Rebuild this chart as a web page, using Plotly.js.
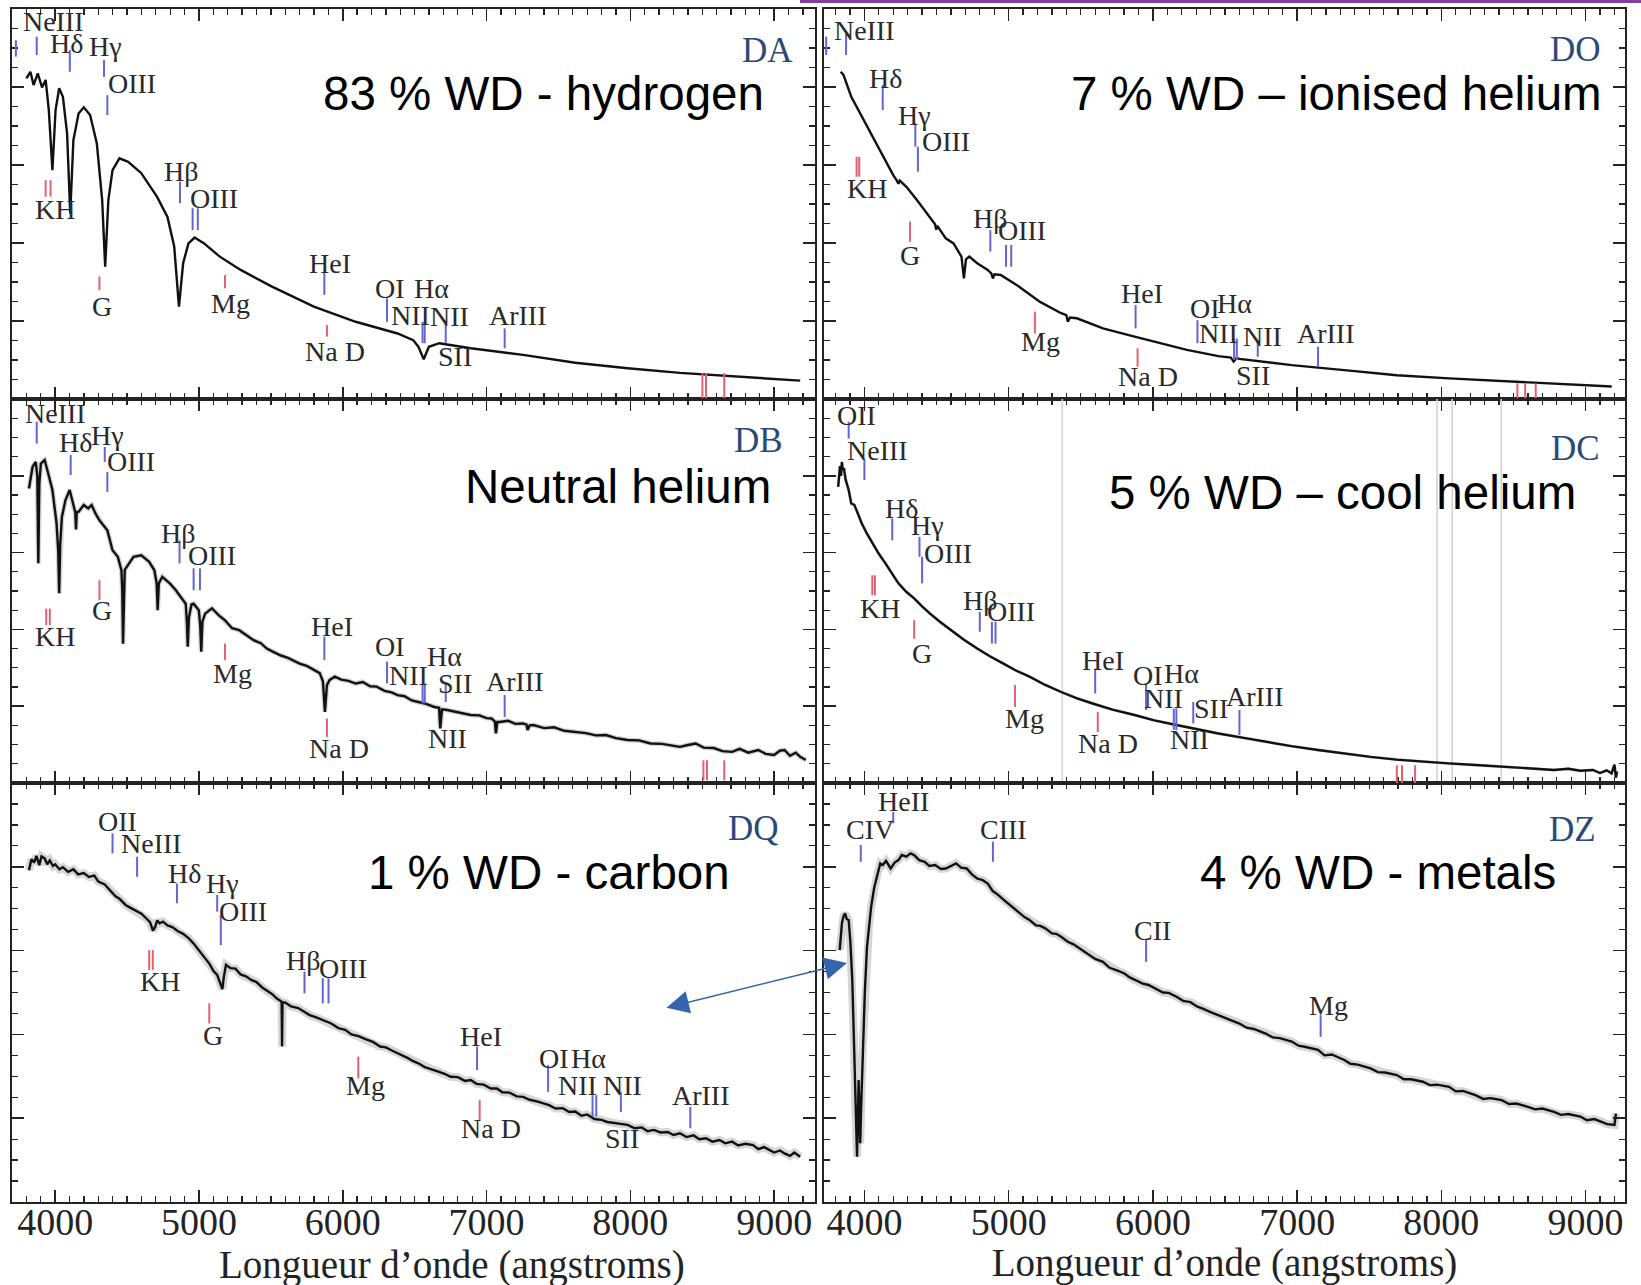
<!DOCTYPE html>
<html>
<head>
<meta charset="utf-8">
<script src="https://cdn.plot.ly/plotly-3.0.1.min.js"></script>
<style>html,body{margin:0;padding:0;background:#fff;}#chart{width:1641px;height:1285px;}</style>
</head>
<body>
<div id="chart"></div>
<script>
// ---------------- spectra (wavelength in Å, flux in % of panel height) ----------------
const DA_WL = [3800,3828,3850,3879,3909,3934,3956,3981,4003,4028,4054,4083,4105,4127,4163,4199,4243,4290,4327,4348,4370,4399,4447,4508,4599,4708,4781,4828,4861,4890,4927,4970,5036,5145,5290,5508,5799,6090,6381,6490,6526,6563,6599,6672,6890,7254,7617,7981,8345,8708,9181];
const DA_FLUX = [82.2,83.9,80.5,83.5,79.9,81.8,74.1,58.7,74.1,79.7,77.5,68.1,47.6,66.4,73.2,74.8,72.8,65.5,51.0,33.9,51.0,58.7,61.7,60.8,57.9,51.9,46.7,39.1,23.7,34.8,39.9,41.4,39.9,36.5,33.1,28.8,23.7,19.8,16.8,15.1,13.4,10.2,13.4,14.3,13.0,11.3,9.3,7.9,6.7,5.9,4.7];

const DO_WL = [3836,3855,3909,3982,4055,4127,4200,4225,4236,4245,4291,4364,4455,4490,4498,4506,4564,4618,4673,4690,4704,4727,4782,4855,4880,4891,4902,4945,5073,5218,5364,5400,5411,5425,5473,5654,5873,6054,6236,6454,6540,6560,6580,6600,6963,7327,7691,8054,8600,9181];
const DO_FLUX = [83.9,83.1,77.5,72.4,67.3,62.6,57.4,56.0,55.2,56.0,54.4,51.0,46.7,44.8,43.4,44.4,41.2,39.9,36.5,30.9,35.8,36.5,34.8,33.1,32.2,30.9,32.0,31.8,28.8,24.9,22.0,21.5,19.8,20.9,20.7,18.1,16.0,14.3,12.6,11.0,10.6,9.6,10.5,10.3,8.7,7.4,6.1,5.3,4.2,3.2];

const DB_WL = [3818,3843,3865,3876,3883,3890,3901,3927,3952,3981,4010,4022,4028,4035,4047,4072,4101,4127,4140,4145,4150,4163,4199,4230,4254,4280,4308,4335,4363,4399,4436,4461,4467,4472,4478,4484,4545,4599,4654,4690,4706,4713,4721,4745,4799,4840,4872,4908,4916,4922,4930,4948,4963,4999,5009,5016,5024,5043,5090,5140,5181,5230,5280,5327,5380,5430,5472,5520,5570,5620,5654,5700,5750,5799,5840,5862,5876,5890,5908,5945,5990,6040,6090,6140,6190,6236,6290,6340,6381,6430,6480,6526,6580,6636,6670,6678,6690,6726,6780,6830,6890,6950,7000,7035,7058,7065,7075,7090,7150,7200,7254,7278,7285,7300,7326,7400,7470,7540,7617,7690,7760,7830,7900,7981,8060,8140,8220,8300,8345,8400,8454,8510,8580,8640,8708,8760,8820,8890,8940,8999,9040,9072,9110,9150,9181,9220];
const DB_FLUX = [76.7,82.3,83.6,80.0,57.2,78.0,83.2,84.1,80.6,76.3,67.6,60.0,49.4,62.0,69.3,73.7,76.3,71.9,70.5,66.0,70.6,70.6,72.4,71.5,72.4,70.2,68.4,67.1,65.8,60.6,58.9,55.4,50.0,36.3,50.0,55.5,58.9,59.3,57.6,55.4,52.0,45.0,52.0,53.7,51.9,50.2,48.5,46.7,42.0,35.5,43.0,46.5,46.7,45.0,41.0,34.2,42.0,44.1,45.5,43.6,42.4,40.3,39.8,38.5,37.2,36.4,35.0,34.1,33.2,32.6,32.0,31.1,30.5,29.4,28.6,26.5,18.5,25.5,26.8,27.7,26.9,26.6,25.9,26.3,25.2,25.1,24.0,23.6,22.9,22.6,21.5,21.1,20.6,19.8,19.6,14.2,19.2,19.0,18.6,18.3,17.7,17.6,16.9,16.8,16.0,12.9,15.9,15.9,16.2,15.4,15.5,15.2,13.8,15.0,15.1,14.3,14.5,13.6,13.3,13.0,12.4,12.5,11.7,11.2,11.1,10.3,10.2,9.6,9.4,9.9,10.3,9.2,9.1,8.3,8.1,8.9,7.9,8.6,7.6,7.3,8.4,8.6,7.1,7.9,6.8,6.0];

const DC_WL = [3818,3825,3831,3838,3844,3850,3858,3870,3891,3909,3930,3946,3960,3982,4020,4055,4100,4146,4190,4236,4290,4345,4400,4455,4530,4600,4690,4782,4870,4964,5050,5145,5250,5364,5470,5582,5720,5873,6010,6163,6300,6454,6620,6782,6960,7145,7330,7509,7690,7873,8050,8236,8420,8600,8780,8880,8963,9050,9100,9145,9180,9200,9210,9218];
const DC_FLUX = [77.1,80.5,82.5,80.0,83.6,81.5,82.0,79.0,76.3,72.8,72.4,71.0,69.5,67.6,64.8,62.4,59.7,57.2,54.5,52.0,49.8,48.1,46.0,44.1,41.8,39.8,37.3,35.0,33.0,31.1,29.3,27.7,25.6,23.7,22.1,20.7,19.1,17.7,16.3,15.1,14.0,12.9,11.8,10.7,9.6,8.6,7.6,6.8,6.1,5.5,5.1,4.7,4.2,3.8,3.4,3.7,3.2,3.4,2.6,3.3,2.5,4.8,1.4,3.0];

const DQ_WL = [3818,3835,3854,3870,3890,3905,3927,3945,3963,3985,4000,4030,4054,4090,4127,4160,4199,4235,4272,4300,4345,4380,4418,4450,4490,4525,4563,4600,4636,4660,4680,4695,4710,4727,4750,4781,4815,4854,4890,4927,4960,5000,5035,5072,5100,5127,5150,5163,5172,5188,5220,5254,5290,5330,5363,5400,5440,5472,5510,5540,5563,5575,5578,5581,5599,5640,5690,5726,5770,5820,5872,5920,5970,6017,6060,6110,6163,6210,6260,6300,6345,6400,6450,6490,6526,6570,6620,6660,6708,6750,6800,6850,6890,6930,6980,7030,7072,7110,7160,7210,7254,7300,7350,7400,7435,7480,7530,7575,7617,7660,7700,7750,7799,7840,7880,7930,7981,8030,8080,8120,8163,8210,8260,8300,8345,8390,8440,8480,8526,8570,8620,8660,8708,8750,8800,8853,8890,8930,8963,9000,9040,9072,9110,9140,9181];
const DQ_FLUX = [79.2,81.8,81.0,82.6,80.4,82.5,82.0,80.6,81.5,80.2,80.6,79.4,79.9,78.8,79.4,78.2,78.5,77.6,77.9,76.5,75.8,74.4,73.0,72.3,70.9,70.2,69.5,68.8,67.6,66.8,64.8,65.6,67.2,66.5,66.9,66.0,65.6,64.6,64.0,63.0,61.8,60.0,58.3,56.9,55.2,54.2,52.0,50.8,53.5,56.6,55.8,55.7,54.3,53.8,53.0,52.5,51.2,50.5,49.6,48.6,48.2,47.8,37.1,47.6,47.6,46.7,46.3,45.5,44.6,44.0,43.2,42.6,41.5,41.1,40.0,39.6,38.8,38.2,37.1,36.9,36.1,35.3,34.4,33.6,33.1,32.2,31.7,31.2,30.6,29.9,29.8,28.9,29.1,28.2,28.0,27.1,27.1,26.2,26.1,25.2,25.1,24.4,24.0,23.4,23.1,22.3,22.4,21.5,21.6,20.6,20.9,19.8,19.6,19.1,18.9,18.6,18.4,17.6,17.8,16.9,17.2,16.6,16.7,16.0,16.4,15.5,15.9,15.0,15.2,14.4,14.8,14.0,14.4,13.5,13.9,13.6,12.6,13.1,12.4,11.8,12.3,11.6,11.0,11.8,10.8];

const DZ_WL = [3829,3836,3844,3855,3866,3878,3891,3903,3916,3928,3938,3944,3949,3954,3960,3965,3971,3977,3989,4003,4018,4032,4047,4068,4091,4110,4127,4150,4182,4210,4236,4260,4291,4320,4345,4380,4418,4450,4491,4530,4564,4600,4636,4670,4709,4745,4782,4820,4855,4890,4927,4970,5036,5070,5110,5145,5190,5220,5254,5300,5330,5364,5410,5450,5509,5550,5600,5654,5700,5750,5800,5840,5873,5930,5970,6018,6070,6110,6164,6210,6260,6309,6350,6400,6454,6500,6550,6600,6650,6700,6782,6830,6880,6963,7010,7060,7145,7190,7240,7327,7370,7420,7509,7560,7610,7691,7740,7790,7872,7920,7970,8054,8100,8150,8236,8290,8340,8418,8470,8520,8600,8650,8700,8781,8830,8880,8963,9010,9060,9109,9150,9200,9210];
const DZ_FLUX = [60.1,64.0,66.5,68.2,68.9,67.5,67.3,62.0,53.0,38.0,21.1,13.0,10.8,18.0,29.1,22.0,14.0,22.0,37.1,50.0,60.9,66.0,70.5,75.0,78.4,80.8,80.4,81.4,79.6,81.0,81.6,82.8,82.4,83.2,82.8,81.6,81.2,80.2,80.4,79.5,79.6,80.2,80.8,79.8,79.6,78.2,77.2,76.8,76.0,74.2,73.3,72.0,70.1,69.3,68.0,67.3,66.0,65.9,65.3,64.1,64.0,63.3,62.1,61.5,60.1,59.2,58.0,57.3,55.9,55.3,54.6,53.6,53.0,52.1,51.8,51.0,50.0,49.9,49.0,48.0,47.7,46.6,46.1,45.3,44.6,43.9,43.3,42.6,41.6,41.3,40.2,39.3,39.1,38.3,37.3,37.0,36.3,35.0,35.2,33.9,33.0,32.8,31.9,31.0,30.9,30.3,29.3,29.3,28.7,27.9,28.0,27.5,26.4,26.5,25.5,24.6,24.8,24.3,23.4,23.5,22.7,22.1,22.3,21.5,20.8,21.0,20.4,19.5,19.8,19.2,18.6,18.4,21.1];

// ---------------- line identification marks: [wavelength, low, high, colour key] ----------------
const DA_MARKS = [[3727,87.8,92.0,'b'],[3872,88.2,92.9,'b'],[4102,83.9,89.5,'b'],[4340,82.6,86.9,'b'],[4363,72.8,77.9,'b'],[3934,51.9,56.1,'r'],[3968,51.9,56.1,'r'],[4308,27.9,31.4,'r'],[4868,50.2,55.7,'b'],[4956,43.3,48.9,'b'],[4992,43.3,48.9,'b'],[5181,28.4,31.8,'r'],[5872,26.7,32.6,'b'],[5890,16.0,19.0,'r'],[6308,19.8,25.8,'b'],[6555,14.3,19.8,'b'],[6570,14.3,19.8,'b'],[6716,14.3,19.4,'b'],[7126,13.0,18.1,'b'],[8501,0.2,6.6,'r'],[8526,0.2,6.6,'r'],[8653,0.2,6.6,'r']];
const DO_MARKS = [[3735,88.2,92.9,'b'],[3873,88.2,93.8,'b'],[4127,74.1,80.5,'b'],[4353,64.7,70.7,'b'],[4371,58.3,64.7,'b'],[3946,57.0,62.1,'r'],[3964,57.0,62.1,'r'],[4316,40.3,45.5,'r'],[4873,37.8,43.3,'b'],[4982,33.9,39.5,'b'],[5018,33.9,39.5,'b'],[5182,16.8,22.4,'r'],[5880,18.1,24.1,'b'],[5894,8.3,13.0,'r'],[6309,14.3,20.2,'b'],[6563,10.0,15.5,'b'],[6582,10.0,15.5,'b'],[6727,10.8,15.1,'b'],[7145,8.3,13.4,'b'],[8527,0.2,4.0,'r'],[8581,0.2,4.0,'r'],[8654,0.2,4.0,'r']];
const DB_MARKS = [[3872,88.4,94.1,'b'],[4108,80.2,85.4,'b'],[4345,83.6,87.5,'b'],[4363,75.8,81.0,'b'],[3938,41.1,45.4,'r'],[3963,41.1,45.4,'r'],[4308,47.6,52.8,'r'],[4865,57.2,63.2,'b'],[4963,50.2,55.9,'b'],[5007,50.2,55.9,'b'],[5181,32.0,36.3,'r'],[5872,32.0,38.1,'b'],[5890,12.0,16.8,'r'],[6308,25.9,31.6,'b'],[6555,20.7,25.9,'b'],[6570,20.7,25.9,'b'],[6716,21.1,25.9,'b'],[7126,17.2,22.9,'b'],[8508,0.7,5.9,'r'],[8533,0.7,5.9,'r'],[8653,0.7,5.9,'r']];
const DC_MARKS = [[3891,89.7,94.1,'b'],[4000,78.9,84.5,'b'],[4193,63.2,68.9,'b'],[4382,58.9,64.1,'b'],[4400,52.0,58.9,'b'],[4055,48.9,54.1,'r'],[4073,48.9,54.1,'r'],[4345,37.6,42.4,'r'],[4800,39.4,44.6,'b'],[4884,36.3,42.0,'b'],[4909,36.3,42.0,'b'],[5044,19.8,25.5,'r'],[5600,23.3,29.8,'b'],[5618,13.3,18.5,'r'],[5953,19.0,25.9,'b'],[6145,13.8,19.4,'b'],[6163,13.8,19.4,'b'],[6280,15.5,21.1,'b'],[6600,12.5,19.0,'b'],[7691,0,4.6,'r'],[7727,0,4.6,'r'],[7818,0,4.6,'r']];
const DQ_MARKS = [[4399,83.2,88.0,'b'],[4570,77.6,82.4,'b'],[4847,71.3,76.0,'b'],[5127,69.3,73.3,'b'],[5152,61.3,68.5,'b'],[4654,55.4,60.1,'r'],[4679,55.4,60.1,'r'],[5072,42.6,47.4,'r'],[5734,49.8,55.0,'b'],[5861,47.4,53.4,'b'],[5901,47.4,53.4,'b'],[6108,29.5,34.7,'r'],[6934,31.5,37.1,'b'],[6952,19.6,24.3,'r'],[7428,26.3,32.7,'b'],[7737,20.4,25.5,'b'],[7763,20.4,25.5,'b'],[7934,21.5,26.3,'b'],[8417,17.6,22.7,'b']];
const DZ_MARKS = [[3975,81.2,85.2,'b'],[4200,90.4,93.1,'b'],[4891,81.2,86.0,'b'],[5953,57.3,62.5,'b'],[7163,39.4,44.6,'b']];
const DC_GREY_LINES = [5372,7970,8075,8415];

// ---------------- line labels: [text, wavelength, height] ----------------
const DA_LABELS = [['NeIII',3988,96.7],['Hδ',4081,91.2],['Hγ',4348,90.3],['OIII',4533,80.8],['KH',3999,48.5],['G',4327,23.7],['Hβ',4872,58.3],['OIII',5108,51.4],['Mg',5217,24.5],['HeI',5908,34.8],['Na D',5945,12.1],['OI',6326,28.4],['Hα',6617,28.4],['NII',6472,21.5],['NII',6745,21.1],['SII',6781,10.8],['ArIII',7217,21.5]];
const DO_LABELS = [['NeIII',4000,94.6],['Hδ',4146,82.2],['Hγ',4345,72.8],['OIII',4564,66.0],['KH',4018,54.0],['G',4316,36.9],['Hβ',4873,46.3],['OIII',5091,43.3],['Mg',5218,14.7],['HeI',5927,27.1],['Na D',5964,5.7],['OI',6364,23.2],['Hα',6563,24.5],['NII',6454,16.8],['NII',6763,16.0],['SII',6691,6.1],['ArIII',7200,16.8]];
const DB_LABELS = [['NeIII',3999,96.2],['Hδ',4145,88.8],['Hγ',4363,90.6],['OIII',4527,83.6],['KH',3999,38.1],['G',4327,45.0],['Hβ',4854,65.0],['OIII',5090,59.3],['Mg',5236,28.5],['HeI',5926,40.7],['Na D',5974,9.0],['OI',6326,35.5],['Hα',6708,32.9],['NII',6454,28.1],['SII',6781,25.9],['ArIII',7199,26.4],['NII',6726,11.6]];
const DC_LABELS = [['OII',3946,95.8],['NeIII',4091,86.7],['Hδ',4255,71.5],['Hγ',4436,67.1],['OIII',4582,59.8],['KH',4109,45.4],['G',4400,33.7],['Hβ',4800,47.6],['OIII',5018,44.6],['Mg',5109,16.8],['HeI',5654,32.0],['Na D',5691,10.3],['OI',5964,28.1],['Hα',6200,28.5],['NII',6073,22.0],['SII',6400,19.4],['ArIII',6709,22.4],['NII',6254,11.2]];
const DQ_LABELS = [['OII',4436,90.8],['NeIII',4672,85.6],['Hδ',4897,78.4],['Hγ',5163,76.0],['OIII',5308,69.3],['KH',4727,52.6],['G',5101,39.8],['Hβ',5726,57.7],['OIII',6000,55.8],['Mg',6156,27.9],['HeI',6963,39.4],['Na D',7028,17.6],['OI',7472,34.3],['Hα',7708,34.3],['NII',7635,27.9],['NII',7944,27.9],['SII',7944,15.2],['ArIII',8490,25.5]];
const DZ_LABELS = [['HeII',4273,95.5],['CIV',4036,88.8],['CIII',4964,88.8],['CII',6000,64.9],['Mg',7218,47.0]];

// ---------------- panel tags and captions ----------------
const TYPE_TAGS = ['DA','DO','DB','DC','DQ','DZ'];
const TAG_POS = [[8955,89.3],[8927,89.5],[8890,89.3],[8927,87.1],[8853,89.2],[8909,88.8]];
const CAPTIONS = ['83 % WD - hydrogen','7 % WD – ionised helium','Neutral helium','5 % WD – cool helium','1 % WD - carbon','4 % WD - metals'];
const CAPTION_POS = [[7393,78.3],[7274,78.3],[7914,77.3],[7316,75.7],[7434,78.6],[7559,78.6]];
const X_TITLE = 'Longueur d’onde (angstroms)';
const X_TICK_STEP = 1000;

// ---------------- build ----------------
const W = 1641, H = 1285;
const panels = [
  {wl: DA_WL, fl: DA_FLUX, marks: DA_MARKS, labels: DA_LABELS, halo: 0},
  {wl: DO_WL, fl: DO_FLUX, marks: DO_MARKS, labels: DO_LABELS, halo: 0},
  {wl: DB_WL, fl: DB_FLUX, marks: DB_MARKS, labels: DB_LABELS, halo: 5},
  {wl: DC_WL, fl: DC_FLUX, marks: DC_MARKS, labels: DC_LABELS, halo: 3},
  {wl: DQ_WL, fl: DQ_FLUX, marks: DQ_MARKS, labels: DQ_LABELS, halo: 8},
  {wl: DZ_WL, fl: DZ_FLUX, marks: DZ_MARKS, labels: DZ_LABELS, halo: 8}
];
const colX = [[12, 815], [824, 1625]];
const colRange = [[3700, 9284], [3720, 9273]];
const rowY = [[9, 399], [399, 783], [783, 1202]];
const SERIF = 'Liberation Serif, Times New Roman, serif';
const SANS = 'Liberation Sans, Arial, sans-serif';
const BLUE = '#6464d2', RED = '#e45f72', INK = '#232323';

const traces = [], shapes = [], annotations = [];
const layout = {
  width: W, height: H, margin: {l: 0, r: 0, t: 0, b: 0},
  paper_bgcolor: '#ffffff', plot_bgcolor: '#ffffff', showlegend: false
};

panels.forEach((p, i) => {
  const n = i + 1, col = i % 2, row = Math.floor(i / 2);
  const xa = 'x' + (n === 1 ? '' : n), ya = 'y' + (n === 1 ? '' : n);
  const xKey = 'xaxis' + (n === 1 ? '' : n), yKey = 'yaxis' + (n === 1 ? '' : n);
  const common = {
    showline: true, linecolor: INK, linewidth: 2, mirror: 'ticks',
    ticks: 'inside', ticklen: 12, tickwidth: 1.6, tickcolor: INK,
    showgrid: false, zeroline: false, fixedrange: true
  };
  layout[xKey] = Object.assign({}, common, {
    domain: [colX[col][0] / W, colX[col][1] / W],
    range: colRange[col], anchor: ya,
    tickmode: 'linear', tick0: 0, dtick: X_TICK_STEP,
    minor: {ticks: 'inside', ticklen: 6, tickwidth: 1.3, tickcolor: INK, dtick: 100, tick0: 0, showgrid: false},
    showticklabels: row === 2,
    ticklabelstandoff: -15,
    tickfont: {family: SERIF, size: 38, color: INK}
  });
  if (row === 2 && col === 1) {
    layout[xKey].title = {text: X_TITLE, font: {family: SERIF, size: 39, color: INK}, standoff: 20};
  }
  layout[yKey] = Object.assign({}, common, {
    domain: [1 - rowY[row][1] / H, 1 - rowY[row][0] / H],
    range: [0, 100], anchor: xa,
    tickmode: 'linear', tick0: 0, dtick: 20,
    minor: {ticks: 'inside', ticklen: 6, tickwidth: 1.3, tickcolor: INK, dtick: 5, tick0: 0, showgrid: false},
    showticklabels: false
  });

  if (i === 3) {
    DC_GREY_LINES.forEach(w => shapes.push({type: 'line', xref: xa, yref: ya, x0: w, x1: w, y0: 0, y1: 100,
      line: {color: '#d4d4d4', width: 1.6}, layer: 'below'}));
  }
  if (p.halo) {
    traces.push({x: p.wl, y: p.fl, xaxis: xa, yaxis: ya, type: 'scatter', mode: 'lines',
      line: {color: 'rgba(0,0,0,0.16)', width: p.halo}, hoverinfo: 'skip'});
  }
  traces.push({x: p.wl, y: p.fl, xaxis: xa, yaxis: ya, type: 'scatter', mode: 'lines',
    line: {color: '#111111', width: 2.4}, hoverinfo: 'skip'});

  p.marks.forEach(m => shapes.push({type: 'line', xref: xa, yref: ya, x0: m[0], x1: m[0], y0: m[1], y1: m[2],
    line: {color: m[3] === 'r' ? RED : BLUE, width: 2}}));
  p.labels.forEach(l => annotations.push({xref: xa, yref: ya, x: l[1], y: l[2], text: l[0], showarrow: false,
    xanchor: 'center', yanchor: 'middle', font: {family: SERIF, size: 28, color: '#2a2a2a'}}));
  annotations.push({xref: xa, yref: ya, x: TAG_POS[i][0], y: TAG_POS[i][1], text: TYPE_TAGS[i], showarrow: false,
    xanchor: 'center', yanchor: 'middle', font: {family: SERIF, size: 35, color: '#2b4a76'}});
  annotations.push({xref: xa, yref: ya, x: CAPTION_POS[i][0], y: CAPTION_POS[i][1], text: CAPTIONS[i], showarrow: false,
    xanchor: 'center', yanchor: 'middle', font: {family: SANS, size: 47.5, color: '#000000'}});
});

// left column axis title (placed a little right of the panel centre, as in the original)
annotations.push({xref: 'paper', yref: 'paper', x: 452 / W, y: 1 - 1265 / H, text: X_TITLE, showarrow: false,
  xanchor: 'center', yanchor: 'middle', font: {family: SERIF, size: 39, color: INK}});

// double-headed arrow linking DQ and DZ panels
annotations.push({xref: 'paper', yref: 'paper', x: 847 / W, y: 1 - 963 / H, ax: -182, ay: 45,
  axref: 'pixel', ayref: 'pixel', text: '', showarrow: true, arrowhead: 2, startarrowhead: 2,
  arrowside: 'end+start', arrowsize: 3, startarrowsize: 3, arrowwidth: 1.5, arrowcolor: '#3566ad'});

// purple slide rule at the top right
shapes.push({type: 'rect', xref: 'paper', yref: 'paper', x0: 800 / W, x1: 1, y0: 1 - 3 / H, y1: 1,
  fillcolor: '#80409c', line: {width: 0}});

layout.shapes = shapes;
layout.annotations = annotations;
Plotly.newPlot('chart', traces, layout, {displayModeBar: false, staticPlot: true});
</script>
</body>
</html>
